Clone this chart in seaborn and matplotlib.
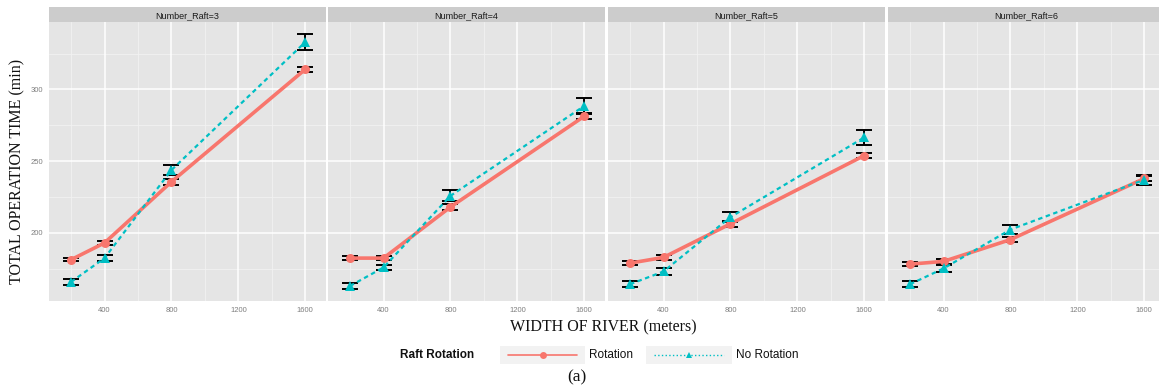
import numpy as np
import pandas as pd
import matplotlib
matplotlib.use("Agg")
import matplotlib.pyplot as plt
import seaborn as sns
from matplotlib.lines import Line2D
from matplotlib.patches import Rectangle

# ---- data ----
widths = [200, 400, 800, 1600]
panels = [3, 4, 5, 6]
rot_mean = {3: [181.3, 193.0, 235.6, 314.0],
            4: [182.4, 182.4, 218.0, 281.3],
            5: [178.9, 182.9, 206.3, 253.9],
            6: [178.2, 180.1, 195.3, 237.9]}
rot_err = {3: [1.2, 1.5, 2.0, 1.6],
           4: [1.2, 1.2, 2.0, 2.0],
           5: [1.2, 1.5, 2.0, 1.5],
           6: [1.2, 1.5, 2.0, 2.0]}
norot_mean = {3: [165.8, 182.4, 243.8, 333.0],
              4: [163.0, 175.9, 225.8, 288.5],
              5: [164.2, 173.1, 211.0, 266.5],
              6: [164.2, 175.2, 202.3, 237.0]}
norot_err = {3: [2.0, 2.0, 3.5, 5.3],
             4: [2.0, 2.0, 3.8, 5.5],
             5: [2.0, 2.5, 3.5, 5.5],
             6: [2.0, 2.5, 3.0, 3.5]}
series = ["Rotation", "No Rotation"]
yticks = [200, 250, 300]
xticks = [400, 800, 1200, 1600]

rows = []
for p in panels:
    for s, m, e in (("Rotation", rot_mean, rot_err), ("No Rotation", norot_mean, norot_err)):
        for w, v, ee in zip(widths, m[p], e[p]):
            rows.append(dict(panel=p, width=w, time=v, err=ee, rotation=s))
df = pd.DataFrame(rows)

red = "#F8766D"
teal = "#00BFC4"
palette = {"Rotation": red, "No Rotation": teal}

sns.set_style("white")
serif = ["Liberation Serif", "DejaVu Serif"]
plt.rcParams["font.family"] = ["Liberation Sans", "DejaVu Sans"]

W, H = 1159, 390
fig = plt.figure(figsize=(W / 100, H / 100), dpi=100)

lefts = [49, 328, 608, 888]
pw = 277
ptop, pbot = 22, 301
stop = 7

for i, p in enumerate(panels):
    ax = fig.add_axes([lefts[i] / W, (H - pbot) / H, pw / W, (pbot - ptop) / H])
    ax.set_facecolor("#E5E5E5")
    for s in ax.spines.values():
        s.set_visible(False)
    ax.set_xlim(68, 1724)
    ax.set_ylim(152.5, 347)
    # grid
    for gx in [200, 600, 1000, 1400]:
        ax.axvline(gx, color="#F2F2F2", lw=0.6, zorder=0)
    for gy in [175, 225, 275, 325]:
        ax.axhline(gy, color="#F2F2F2", lw=0.6, zorder=0)
    for gx in xticks:
        ax.axvline(gx, color="white", lw=1.1, zorder=0)
    for gy in yticks:
        ax.axhline(gy, color="white", lw=1.1, zorder=0)

    sub = df[df.panel == p]
    for s in series:
        ss = sub[sub.rotation == s]
        ax.errorbar(ss.width, ss.time, yerr=ss.err, fmt="none", ecolor="black",
                    elinewidth=1.4, capsize=5.5, capthick=1.4, zorder=2)
    sns.lineplot(data=sub, x="width", y="time", hue="rotation", style="rotation",
                 size="rotation", sizes={"Rotation": 2.6, "No Rotation": 1.6},
                 hue_order=series, style_order=series,
                 markers={"Rotation": "o", "No Rotation": "^"},
                 dashes={"Rotation": "", "No Rotation": (2, 1.6)},
                 palette=palette, markersize=6.5, markeredgewidth=0,
                 legend=False, ax=ax, zorder=3)

    ax.set_xticks(xticks)
    ax.set_xticklabels([str(t) for t in xticks], fontsize=5.5, color="#7F7F7F")
    ax.set_yticks(yticks)
    if i == 0:
        ax.set_yticklabels([str(t) for t in yticks], fontsize=5.5, color="#7F7F7F")
    else:
        ax.set_yticklabels([])
    ax.tick_params(axis="both", length=2, color="#7F7F7F", pad=2)
    ax.set_xlabel("")
    ax.set_ylabel("")

    # strip
    sax = fig.add_axes([lefts[i] / W, (H - ptop) / H, pw / W, (ptop - stop) / H])
    sax.set_facecolor("#CCCCCC")
    sax.set_xticks([]); sax.set_yticks([])
    for s in sax.spines.values():
        s.set_visible(False)
    sax.text(0.5, 0.45, f"Number_Raft={p}", ha="center", va="center", fontsize=6.5,
             color="#1A1A1A", transform=sax.transAxes)

fig.text(17 / W, 1 - 171 / H, "TOTAL OPERATION TIME (min)", rotation=90, ha="center",
         va="center", fontsize=11.5, family=serif, color="#111111")
fig.text(603 / W, 1 - 327 / H, "WIDTH OF RIVER (meters)", ha="center", va="center",
         fontsize=11.5, family=serif, color="#111111")
fig.text(577 / W, 1 - 377 / H, "(a)", ha="center", va="center", fontsize=12.5,
         family=serif, color="#111111")

# legend
ly = 1 - 355 / H
fig.text(400 / W, ly, "Raft Rotation", ha="left", va="center", fontsize=8.5,
         fontweight="bold", color="#111111")
keys = [(500, 585, "Rotation", red, "-", "o", 1.2),
        (646, 732, "No Rotation", teal, ":", "^", 1.0)]
for x0, x1, lab, c, ls, mk, lw in keys:
    fig.patches.append(Rectangle((x0 / W, 1 - 364 / H), (x1 - x0) / W, 18 / H,
                                 transform=fig.transFigure, facecolor="#F2F2F2",
                                 edgecolor="none", zorder=0))
    fig.lines.append(Line2D([(x0 + 8) / W, (x1 - 8) / W], [ly, ly], transform=fig.transFigure,
                            color=c, lw=lw, ls=ls))
    fig.lines.append(Line2D([(x0 + x1) / 2 / W], [ly], transform=fig.transFigure,
                            color=c, marker=mk, markersize=5, markeredgewidth=0))
    fig.text((x1 + 4) / W, ly, lab, ha="left", va="center", fontsize=8.5, color="#111111")

fig.savefig("out.png", dpi=100)
